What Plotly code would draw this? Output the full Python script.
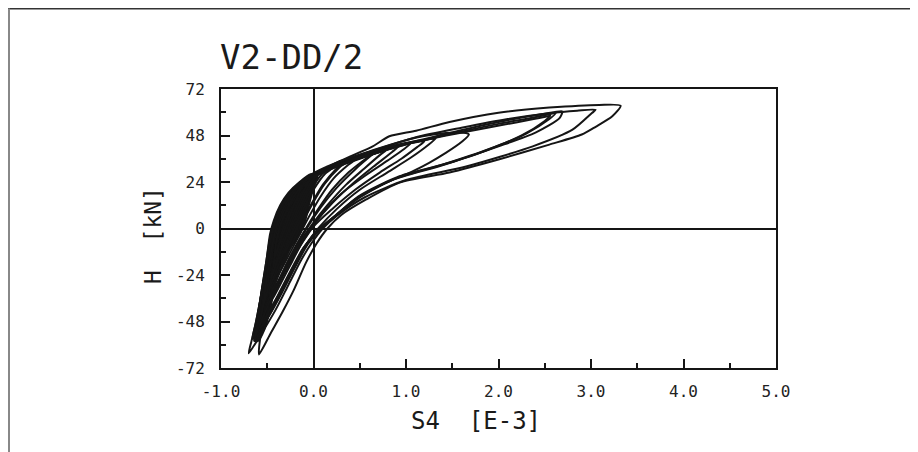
import plotly.graph_objects as go

# ---------------- data ----------------
title_text = "V2-DD/2"
x_title = "S4  [E-3]"
y_title = "H  [kN]"
x_tickvals = [-1.0, 0.0, 1.0, 2.0, 3.0, 4.0, 5.0]
x_ticktext = ["-1.0", "0.0", "1.0", "2.0", "3.0", "4.0", "5.0"]
y_tickvals = [-72, -48, -24, 0, 24, 48, 72]
y_ticktext = ["-72", "-48", "-24", "0", "24", "48", "72"]

# cycle with largest positive excursion (tip ~3.32 / 63)
s4_f = [3.32, 3.23, 3.05, 2.9, 2.55, 2.0, 1.47, 0.93, 0.57, 0.30, 0.15, 0.03, -0.08, -0.21, -0.34, -0.46, -0.59,
        -0.58, -0.53, -0.47, -0.41, -0.33, -0.20, 0.00, 0.28, 0.64, 0.82, 1.11, 1.47, 2.00, 2.55, 3.09, 3.32]
h_f = [63.4, 57.9, 52.5, 48.5, 43.3, 35.6, 28.9, 23.7, 15.0, 7.0, 0.0, -8.0, -17.5, -31.4, -43.5, -53.8, -65.0,
       -58, -45, -28, -8, 6, 18.5, 27.5, 34.7, 42.4, 47.6, 50.5, 55.0, 59.8, 62.4, 63.8, 63.4]

s4_e = [3.05, 3.01, 2.80, 2.37, 1.65, 1.00, 0.55, 0.25, 0.10, -0.02, -0.13, -0.27, -0.41, -0.56, -0.70,
        -0.67, -0.62, -0.56, -0.50, -0.45, -0.38, -0.28, -0.15, -0.02, 0.30, 0.70, 1.10, 1.60, 2.10, 2.55, 2.85, 3.05]
h_e = [61.3, 59.6, 51.0, 42.4, 32.0, 25.0, 16.0, 6.5, 0.0, -7.5, -16, -29, -42, -54, -64.4,
       -58, -48, -33, -17, -2, 7, 15, 22, 27.5, 34, 41, 47, 52, 56.5, 59.5, 60.8, 61.3]

s4_d1 = [2.69, 2.66, 2.40, 2.00, 1.47, 0.93, 0.50, 0.22, 0.08, -0.06, -0.20, -0.34, -0.48, -0.59, -0.66,
         -0.63, -0.58, -0.52, -0.47, -0.42, -0.33, -0.22, -0.08, 0.15, 0.50, 0.93, 1.40, 2.00, 2.40, 2.60, 2.69]
h_d1 = [60.5, 57.0, 49.5, 42.4, 33.9, 27.0, 17.0, 6.0, 0.0, -8, -20, -33, -45, -53, -57,
        -50, -38, -22, -8, 2, 11, 18, 24.5, 30, 36, 43, 48.5, 55, 58.5, 60, 60.5]

s4_d2 = [2.62, 2.55, 2.30, 1.90, 1.40, 0.90, 0.48, 0.20, 0.05, -0.09, -0.23, -0.36, -0.48, -0.57, -0.62,
         -0.60, -0.55, -0.50, -0.45, -0.40, -0.32, -0.20, -0.06, 0.18, 0.55, 1.00, 1.50, 2.00, 2.35, 2.55, 2.62]
h_d2 = [59.6, 56.5, 49.0, 41.0, 33.0, 26.0, 16.0, 5.0, -1.0, -9, -21, -33, -44, -51, -55,
        -48, -36, -21, -7, 3, 12, 19.5, 25.5, 31, 37, 43.5, 49, 54, 57, 59, 59.6]

s4_d3 = [2.56, 2.50, 2.25, 1.85, 1.35, 0.85, 0.45, 0.18, 0.03, -0.11, -0.25, -0.38, -0.50, -0.58, -0.61,
         -0.58, -0.54, -0.49, -0.44, -0.39, -0.31, -0.19, -0.05, 0.20, 0.58, 1.05, 1.55, 2.05, 2.38, 2.52, 2.56]
h_d3 = [58.2, 55.5, 48.0, 40.0, 32.0, 25.0, 15.0, 4.0, -2.0, -10, -22, -34, -45, -52, -54,
        -46, -33, -18, -5, 4, 12.5, 20, 26, 31.5, 37.5, 44, 49, 53.5, 56.5, 57.8, 58.2]

s4_c = [1.68, 1.61, 1.43, 1.25, 1.07, 0.80, 0.50, 0.22, 0.04, -0.10, -0.23, -0.36, -0.47, -0.55, -0.60,
        -0.58, -0.54, -0.49, -0.45, -0.40, -0.32, -0.20, -0.05, 0.20, 0.50, 0.85, 1.18, 1.43, 1.65, 1.68]
h_c = [48.5, 45.0, 39.0, 33.9, 29.5, 24.0, 16.0, 6.0, -1.0, -10, -22, -34, -44, -50, -52,
       -45, -33, -18, -5, 4, 12, 19.5, 26, 32, 38, 43.5, 47.6, 49.3, 49.3, 48.5]

s4_b1 = [1.32, 1.25, 1.05, 0.80, 0.50, 0.25, 0.05, -0.09, -0.22, -0.35, -0.46, -0.54, -0.57,
         -0.55, -0.50, -0.46, -0.41, -0.33, -0.21, -0.06, 0.20, 0.50, 0.85, 1.10, 1.30, 1.32]
h_b1 = [46.5, 43.5, 36.5, 29.0, 20.0, 10.0, 0.0, -9, -20, -32, -41, -47, -49,
        -42, -28, -13, 0, 10, 18.5, 25.5, 32, 37.5, 42.5, 45.0, 46.5, 46.5]

s4_b2 = [1.20, 1.12, 0.95, 0.72, 0.45, 0.20, 0.00, -0.13, -0.27, -0.38, -0.47, -0.53,
         -0.52, -0.48, -0.44, -0.38, -0.30, -0.18, -0.04, 0.22, 0.55, 0.88, 1.10, 1.20]
h_b2 = [45.0, 42.0, 36.0, 29.0, 20.0, 10.0, 1.0, -8, -19, -29, -38, -44,
        -38, -25, -11, 1, 11, 19.5, 26, 32, 38, 42.5, 44.5, 45.0]

s4_b3 = [1.05, 0.98, 0.80, 0.55, 0.30, 0.10, -0.05, -0.18, -0.31, -0.41, -0.48, -0.51,
         -0.47, -0.43, -0.37, -0.28, -0.16, -0.02, 0.25, 0.55, 0.85, 1.02, 1.05]
h_b3 = [44.0, 41.0, 35.0, 27.0, 18.0, 8.0, -1.0, -10, -21, -31, -38, -40,
        -27, -13, 0, 11, 20, 26.5, 33, 38.5, 42.5, 44, 44.0]

s4_b4 = [0.92, 0.85, 0.65, 0.42, 0.20, 0.02, -0.11, -0.23, -0.35, -0.44, -0.49,
         -0.46, -0.42, -0.36, -0.27, -0.15, 0.00, 0.25, 0.55, 0.80, 0.92]
h_b4 = [42.5, 39.5, 32.0, 23.0, 13.0, 3.0, -6, -17, -28, -36, -39,
        -27, -13, -1, 10, 19.5, 26.5, 32.5, 38, 41.5, 42.5]

s4_b5 = [0.80, 0.72, 0.55, 0.35, 0.15, 0.00, -0.13, -0.25, -0.36, -0.44, -0.48,
         -0.45, -0.41, -0.35, -0.26, -0.14, 0.02, 0.28, 0.55, 0.75, 0.80]
h_b5 = [41.0, 38.0, 31.0, 22.5, 12.0, 3.0, -6, -17, -27, -34, -36,
        -24, -11, 0, 10.5, 20, 27, 33, 38, 40.5, 41.0]

s4_s1 = [0.62, 0.55, 0.38, 0.20, 0.05, -0.07, -0.18, -0.29, -0.39, -0.46, -0.48,
         -0.45, -0.41, -0.35, -0.26, -0.13, 0.02, 0.25, 0.48, 0.62]
h_s1 = [38.0, 35.5, 29.0, 20.0, 10.0, 1.0, -8, -18, -28, -34, -35,
        -22, -9, 2, 11.5, 20.5, 27, 32.5, 36.5, 38.0]

s4_s2 = [0.45, 0.38, 0.22, 0.07, -0.05, -0.16, -0.27, -0.37, -0.45, -0.47,
         -0.44, -0.40, -0.34, -0.25, -0.12, 0.03, 0.22, 0.38, 0.45]
h_s2 = [35.5, 33.0, 26.0, 16.0, 6.0, -4, -14, -23, -30, -31,
        -19, -7, 3, 12, 21, 27.5, 32, 34.5, 35.5]

s4_s3 = [0.30, 0.24, 0.10, -0.03, -0.14, -0.24, -0.34, -0.42, -0.46,
         -0.43, -0.39, -0.33, -0.23, -0.10, 0.05, 0.22, 0.30]
h_s3 = [33.0, 30.5, 22.5, 12.0, 2.0, -8, -18, -25, -28,
        -16, -4, 5, 13.5, 22, 28, 31.5, 33.0]

s4_s4 = [0.15, 0.08, -0.04, -0.14, -0.23, -0.32, -0.40, -0.44,
         -0.42, -0.38, -0.31, -0.21, -0.08, 0.06, 0.15]
h_s4 = [30.5, 27.5, 19.0, 9.0, -1.0, -10, -19, -24,
        -13, -2, 7, 15, 23, 28.5, 30.5]

s4_s5 = [0.02, -0.04, -0.14, -0.23, -0.31, -0.38, -0.43,
         -0.41, -0.36, -0.29, -0.18, -0.06, 0.02]
h_s5 = [28.0, 25.0, 16.0, 6.0, -4, -13, -20,
        -10, 0, 8.5, 17, 24.5, 28.0]

s4_s6 = [-0.08, -0.14, -0.22, -0.30, -0.37, -0.42, -0.40, -0.35, -0.27, -0.17, -0.08]
h_s6 = [25.0, 20.0, 11.0, 1.0, -8, -15, -6, 3, 11.5, 19.5, 25.0]

s4_n1 = [0.35, 0.28, 0.12, -0.02, -0.13, -0.25, -0.36, -0.46, -0.55, -0.61, -0.64,
         -0.61, -0.57, -0.52, -0.47, -0.42, -0.34, -0.23, -0.10, 0.05, 0.25, 0.35]
h_n1 = [34.0, 31.5, 23.0, 12.0, 2.0, -10, -22, -34, -45, -53, -58,
        -48, -35, -20, -5, 4, 12.5, 20, 25.5, 29.5, 33, 34.0]

s4_n2 = [0.20, 0.13, 0.00, -0.11, -0.22, -0.33, -0.43, -0.52, -0.58, -0.60,
         -0.57, -0.53, -0.48, -0.43, -0.37, -0.29, -0.18, -0.05, 0.10, 0.20]
h_n2 = [31.0, 28.5, 20.0, 10.0, -1, -13, -25, -37, -46, -52,
        -44, -30, -15, -2, 7, 14.5, 21, 26.5, 30, 31.0]

s4_n3 = [0.05, -0.01, -0.12, -0.22, -0.32, -0.41, -0.49, -0.55, -0.57,
         -0.54, -0.50, -0.45, -0.40, -0.33, -0.23, -0.11, 0.05]
h_n3 = [28.0, 25.0, 16.0, 5.0, -7, -19, -31, -41, -47,
        -38, -24, -10, 1, 10, 17.5, 24, 28.0]

s4_n4 = [0.70, 0.62, 0.45, 0.25, 0.08, -0.06, -0.18, -0.31, -0.43, -0.53, -0.60, -0.63,
         -0.60, -0.56, -0.51, -0.46, -0.41, -0.33, -0.21, -0.07, 0.15, 0.45, 0.70]
h_n4 = [40.5, 37.5, 30.5, 21.0, 11.0, 1.0, -9, -21, -33, -44, -52, -56,
        -47, -34, -19, -5, 4, 12.5, 20, 26.5, 32, 37.5, 40.5]

# outline of the many densely overlapping small cycles (drawn solid, as in the print)
s4_core = [-0.03, 0.04, 0.00, -0.05, -0.09, -0.15, -0.25, -0.35, -0.42, -0.47, -0.53, -0.60, -0.64,
           -0.60, -0.56, -0.51, -0.47, -0.43, -0.36, -0.27, -0.15, -0.03]
h_core = [28.0, 27.0, 21.0, 12.0, 4.0, -3.0, -10.0, -18.0, -30.0, -42.0, -52.0, -58.0, -58.0,
          -45.0, -32.0, -17.0, -3.0, 4.0, 12.0, 18.5, 24.0, 28.0]

cycles = [
    (s4_f, h_f), (s4_e, h_e), (s4_d1, h_d1), (s4_d2, h_d2), (s4_d3, h_d3),
    (s4_c, h_c), (s4_b1, h_b1), (s4_b2, h_b2), (s4_b3, h_b3), (s4_b4, h_b4), (s4_b5, h_b5),
    (s4_s1, h_s1), (s4_s2, h_s2), (s4_s3, h_s3), (s4_s4, h_s4), (s4_s5, h_s5), (s4_s6, h_s6),
    (s4_n1, h_n1), (s4_n2, h_n2), (s4_n3, h_n3), (s4_n4, h_n4),
]

# ---------------- figure ----------------
FONT = "DejaVu Sans Mono"
INK = "#151515"
OFF = 8  # page body margin

fig = go.Figure()
fig.add_trace(go.Scatter(
    x=s4_core, y=h_core, mode="lines", fill="toself", fillcolor=INK,
    line=dict(color=INK, width=2.0, shape="spline", smoothing=0.7),
    hoverinfo="skip", showlegend=False,
))
for xs, ys in cycles:
    fig.add_trace(go.Scatter(
        x=xs, y=ys, mode="lines",
        line=dict(color=INK, width=2.0, shape="spline", smoothing=0.7),
        hoverinfo="skip", showlegend=False,
    ))

# target plot box in page pixels: x 221..776, y 89..368
L, T = 221 - OFF, 89 - OFF
W, H = 555, 279
R = 918 - L - W
B = 452 - T - H

def px(x):
    return (x - OFF - L) / W

def py(y):
    return (T + H - (y - OFF)) / H

axis_common = dict(
    showline=True, linecolor=INK, linewidth=2, mirror=True,
    showgrid=False, ticks="inside", ticklen=9, tickwidth=1.5, tickcolor=INK,
    zeroline=True, zerolinecolor=INK, zerolinewidth=1.6,
    tickfont=dict(family=FONT, size=16, color="#222"),
)

fig.update_xaxes(
    range=[-1.0, 5.0], tickmode="array", tickvals=x_tickvals, ticktext=x_ticktext,
    minor=dict(ticks="inside", ticklen=5, tickwidth=1.5, tickcolor=INK, dtick=0.5, tick0=0, showgrid=False),
    ticklabelstandoff=8, **axis_common,
)
fig.update_yaxes(
    range=[-72, 72], tickmode="array", tickvals=y_tickvals, ticktext=y_ticktext,
    minor=dict(ticks="inside", ticklen=5, tickwidth=1.5, tickcolor=INK, dtick=12, tick0=0, showgrid=False),
    ticklabelstandoff=11, **axis_common,
)

fig.update_layout(
    width=918, height=452,
    margin=dict(l=L, r=R, t=T, b=B, pad=0),
    paper_bgcolor="white", plot_bgcolor="white",
    showlegend=False,
    annotations=[
        dict(text=title_text, x=px(218), y=py(57), xref="paper", yref="paper",
             xanchor="left", yanchor="middle", showarrow=False,
             font=dict(family=FONT, size=34, color="#1a1a1a")),
        dict(text=x_title, x=px(476), y=py(421), xref="paper", yref="paper",
             xanchor="center", yanchor="middle", showarrow=False,
             font=dict(family=FONT, size=24, color="#1a1a1a")),
        dict(text=y_title, x=px(153), y=py(236), xref="paper", yref="paper",
             xanchor="center", yanchor="middle", showarrow=False, textangle=-90,
             font=dict(family=FONT, size=23, color="#1a1a1a")),
    ],
    shapes=[
        dict(type="line", xref="paper", yref="paper", x0=px(0), x1=px(930), y0=py(8.5), y1=py(8.5),
             line=dict(color="#333", width=2)),
        dict(type="line", xref="paper", yref="paper", x0=px(9), x1=px(9), y0=py(8.5), y1=py(460),
             line=dict(color="#888", width=2)),
    ],
)

fig.write_html("out.html")
